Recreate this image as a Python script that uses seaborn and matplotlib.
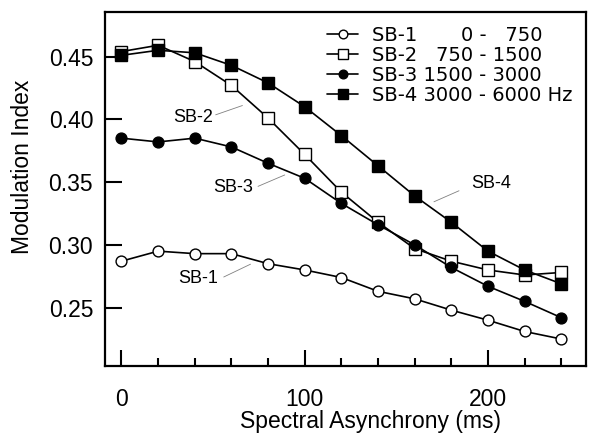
import matplotlib
matplotlib.use("Agg")
import matplotlib.pyplot as plt
import seaborn as sns
import pandas as pd
from matplotlib.ticker import MultipleLocator, FixedLocator, FormatStrFormatter

# ---- data ----
asynchrony = [0, 20, 40, 60, 80, 100, 120, 140, 160, 180, 200, 220, 240]
sb1 = [0.287, 0.295, 0.293, 0.293, 0.285, 0.280, 0.274, 0.263, 0.257, 0.248, 0.240, 0.231, 0.225]
sb2 = [0.454, 0.459, 0.446, 0.427, 0.401, 0.372, 0.342, 0.318, 0.297, 0.287, 0.280, 0.276, 0.278]
sb3 = [0.385, 0.382, 0.385, 0.378, 0.365, 0.353, 0.333, 0.316, 0.300, 0.282, 0.267, 0.255, 0.242]
sb4 = [0.451, 0.455, 0.453, 0.443, 0.429, 0.410, 0.387, 0.363, 0.339, 0.318, 0.295, 0.280, 0.269]
legend_labels = ["SB-1       0 -   750", "SB-2   750 - 1500",
                 "SB-3 1500 - 3000", "SB-4 3000 - 6000 Hz"]
y_ticks = [0.25, 0.30, 0.35, 0.40, 0.45]
x_ticks = [0, 100, 200]

# annotation labels: text, text position, leader start, leader end
ann_text = ["SB-1", "SB-2", "SB-3", "SB-4"]
ann_pos = [(41.6, 0.2730), (38.9, 0.4014), (61.0, 0.3457), (202.0, 0.3485)]
ann_start = [(55.8, 0.2744), (51.4, 0.4036), (74.5, 0.3466), (170.5, 0.3343)]
ann_end = [(70.4, 0.2846), (66.0, 0.4110), (89.1, 0.3557), (184.2, 0.3431)]

sns.set_style("ticks")
plt.rcParams["font.family"] = ["Liberation Sans", "DejaVu Sans"]
plt.rcParams["text.color"] = "black"
plt.rcParams["axes.labelcolor"] = "black"
plt.rcParams["xtick.color"] = "black"
plt.rcParams["ytick.color"] = "black"

fig = plt.figure(figsize=(5.89, 4.34), dpi=100)
ax = fig.add_axes([105 / 589, 1 - 366 / 434, 481 / 589, 354 / 434])

styles = [
    dict(marker="o", mfc="white", ms=7.8),
    dict(marker="s", mfc="white", ms=8.6),
    dict(marker="o", mfc="black", ms=7.8),
    dict(marker="s", mfc="black", ms=9.2),
]
series = [sb1, sb2, sb3, sb4]
for vals, lab, st in zip(series, legend_labels, styles):
    df = pd.DataFrame({"x": asynchrony, "y": vals})
    sns.lineplot(data=df, x="x", y="y", ax=ax, color="black", lw=1.2,
                 marker=st["marker"], markerfacecolor=st["mfc"],
                 markeredgecolor="black", markeredgewidth=1.0,
                 markersize=st["ms"], label=lab, errorbar=None)

ax.set_xlim(-9, 253.5)
ax.set_ylim(0.2035, 0.4855)

ax.xaxis.set_major_locator(FixedLocator(x_ticks))
ax.xaxis.set_minor_locator(MultipleLocator(20))
ax.yaxis.set_major_locator(FixedLocator(y_ticks))
ax.yaxis.set_major_formatter(FormatStrFormatter("%.2f"))

ax.tick_params(axis="x", which="major", direction="in", length=11.5, width=1.5,
               pad=16, labelsize=16.5, top=False, colors="black")
ax.tick_params(axis="x", which="minor", direction="in", length=5.8, width=1.5,
               top=False, colors="black")
ax.tick_params(axis="y", which="major", direction="in", length=12, width=1.5,
               pad=8.5, labelsize=16.5, right=False, colors="black")

for sp in ax.spines.values():
    sp.set_visible(True)
    sp.set_linewidth(1.6)
    sp.set_color("black")

ax.set_xlabel("Spectral Asynchrony (ms)", fontsize=16.5, color="black")
ax.set_ylabel("Modulation Index", fontsize=16.5, color="black")
ax.xaxis.set_label_coords(0.5526, -0.158)
ax.xaxis.label.set_va("center")
ax.yaxis.set_label_coords(-0.1705, 0.563)
ax.yaxis.label.set_va("center")

for t, p, s, e in zip(ann_text, ann_pos, ann_start, ann_end):
    ax.text(p[0], p[1], t, ha="center", va="center", fontsize=13, color="black")
    ax.annotate("", xy=e, xytext=s,
                arrowprops=dict(arrowstyle="-", color="gray", lw=0.6,
                                shrinkA=0, shrinkB=0))

leg = ax.legend(loc="upper left", bbox_to_anchor=(327 / 589, 1 - 25.6 / 434),
                bbox_transform=fig.transFigure, frameon=False, borderpad=0,
                borderaxespad=0, handlelength=1.6, handletextpad=0.7,
                labelspacing=0.05, markerscale=0.8,
                prop={"family": "DejaVu Sans", "size": 14})
for txt in leg.get_texts():
    txt.set_color("black")

fig.savefig("out.png", dpi=100)
